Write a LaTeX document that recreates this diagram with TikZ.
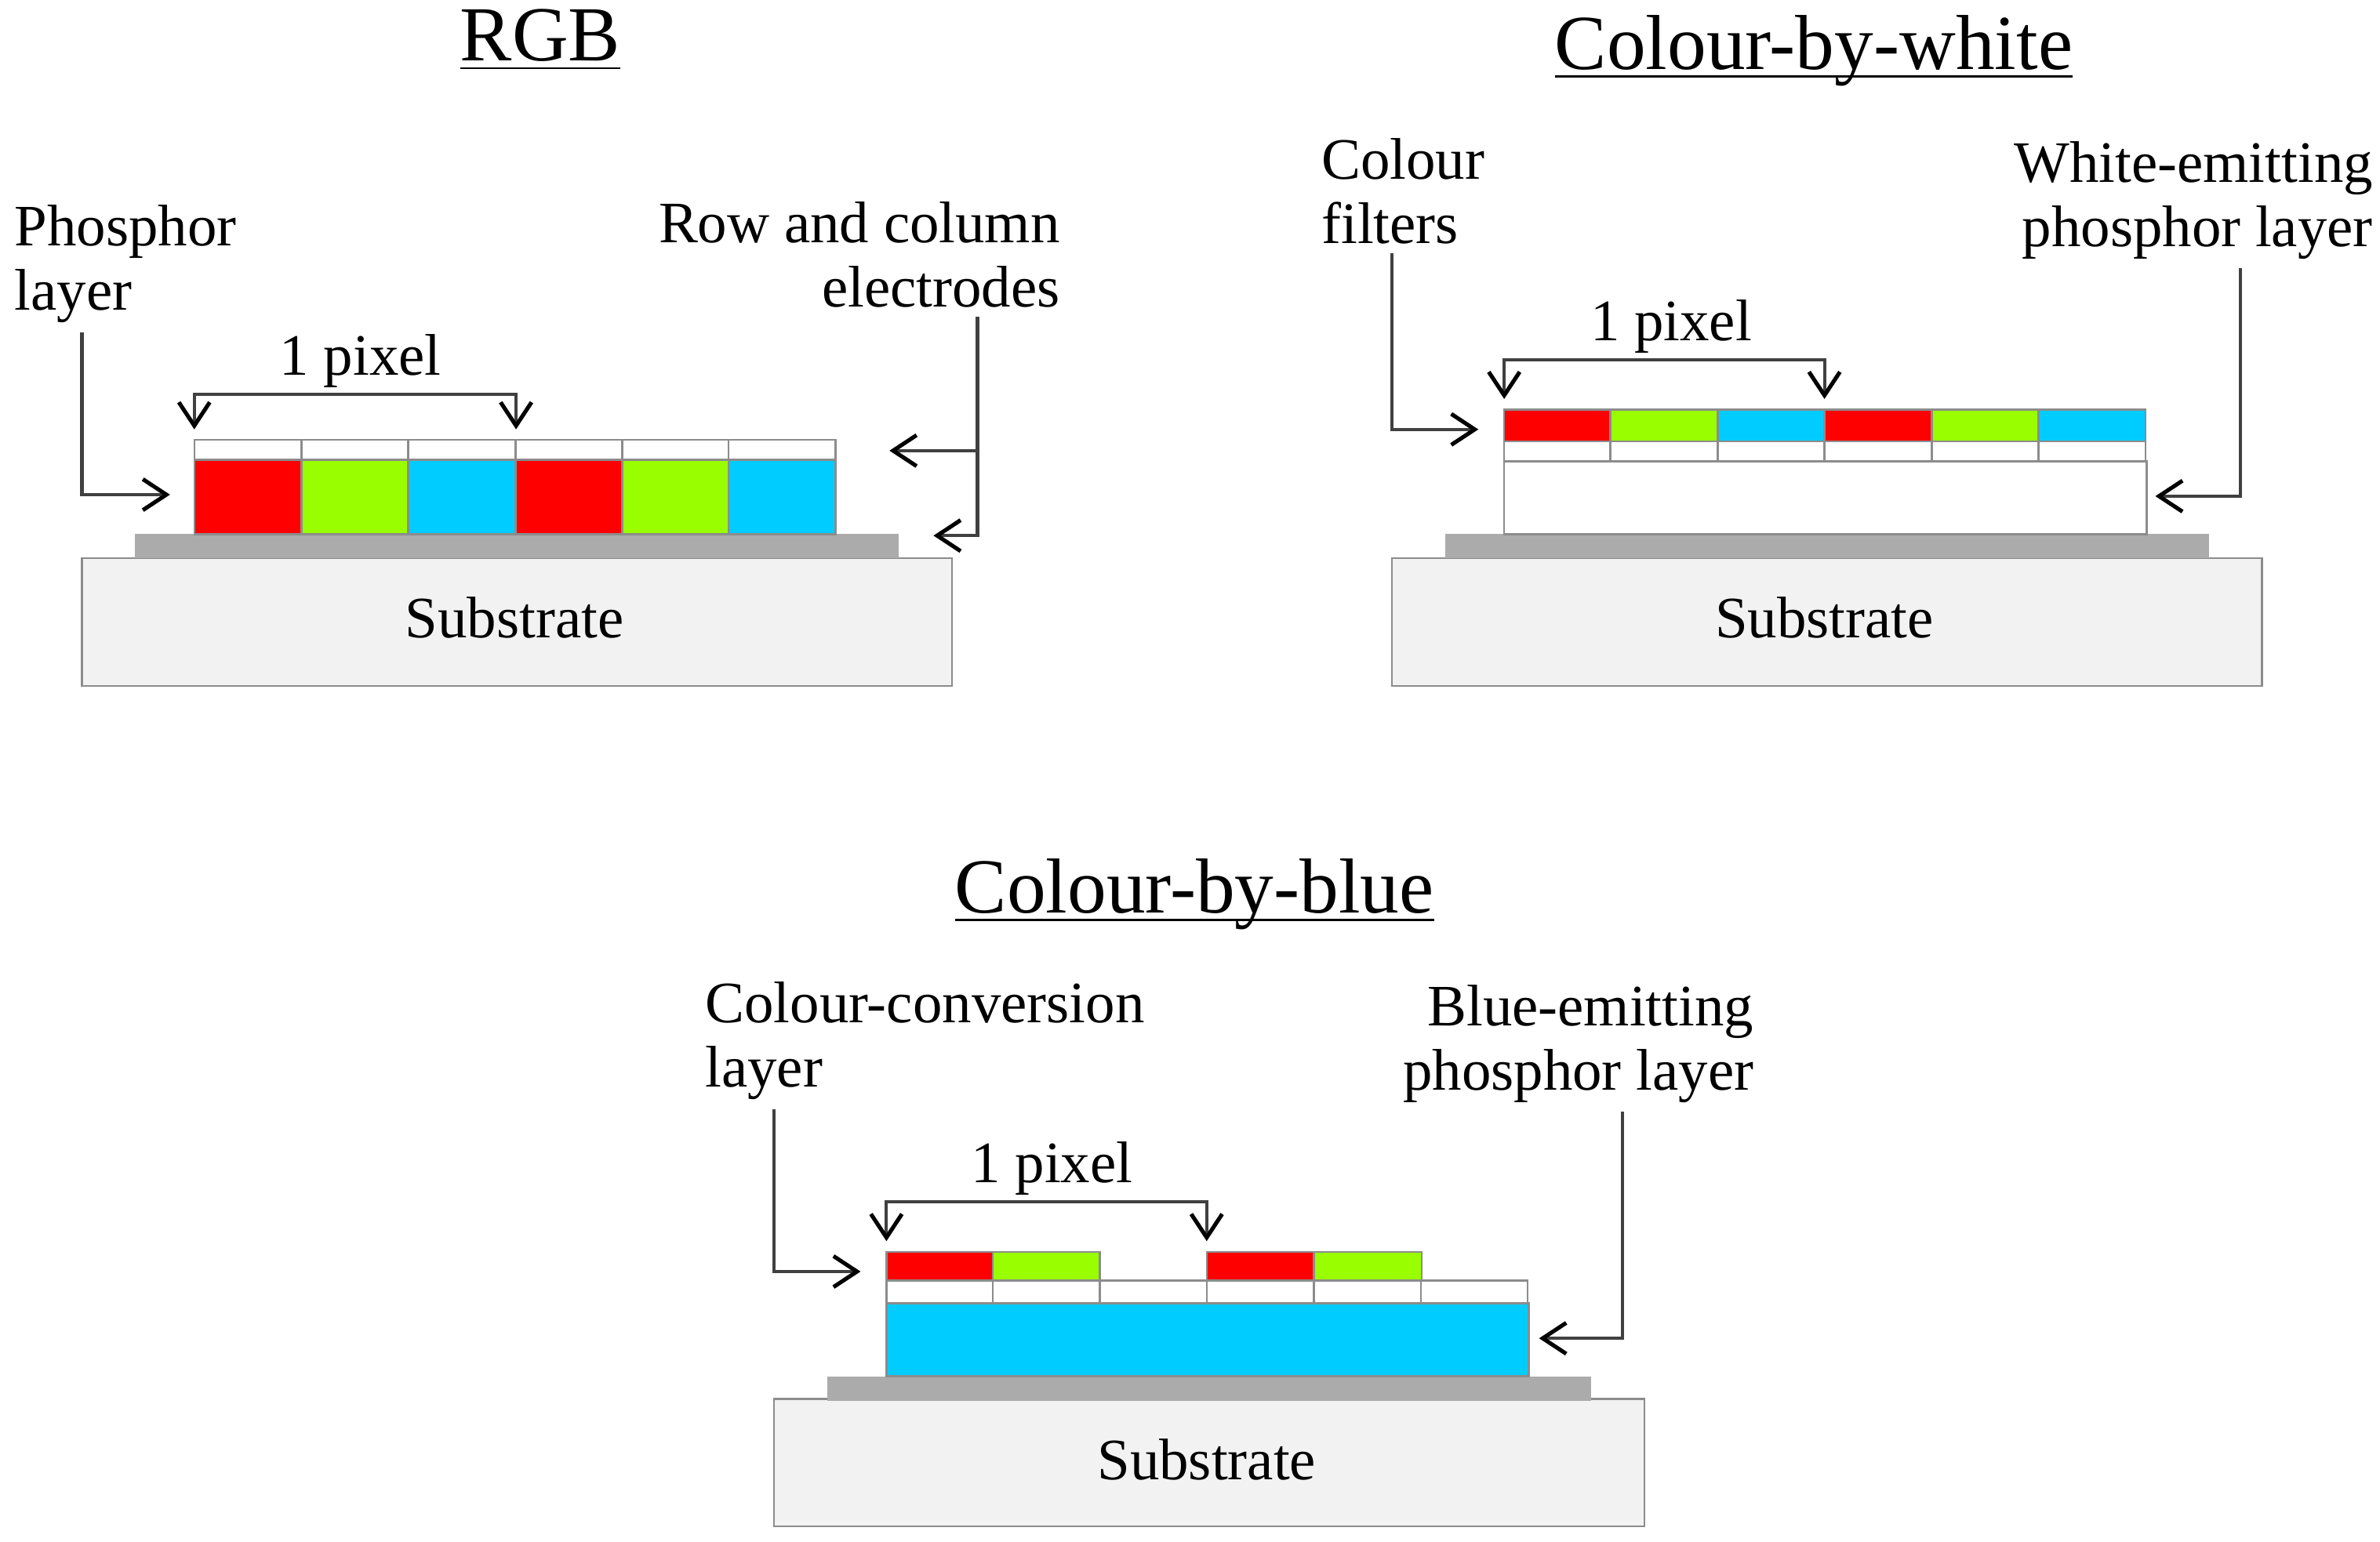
\documentclass[tikz,border=0pt]{standalone}
\usepackage{fontspec}
\usetikzlibrary{arrows.meta}
\setmainfont{Liberation Serif}
\definecolor{cellred}{HTML}{FF0000}
\definecolor{cellgreen}{HTML}{99FF00}
\definecolor{cellblue}{HTML}{00CCFF}
\definecolor{basegrey}{HTML}{ABABAB}
\definecolor{subgrey}{HTML}{F2F2F2}
\definecolor{linegrey}{HTML}{8C8C8C}
\newcommand{\tline}[1]{\underline{\smash{#1}}}
\tikzset{
  x=0.01cm,y=-0.01cm,
  >={Straight Barb[length=4.4pt,width=5.8pt,line width=0.75pt,black]},
  box/.style={anchor=north west,inner sep=0pt,outer sep=0pt,line width=0.35pt},
  substrate/.style={box,draw=linegrey,fill=subgrey,minimum width=5.73cm,minimum height=0.84cm},
  basefilm/.style={box,fill=basegrey,minimum width=5.03cm,minimum height=0.16cm},
  emptycell/.style={box,draw=linegrey,fill=white},
  lead/.style={draw=black!75,line width=0.6pt,shorten <=1.5pt,->},
  span/.style={draw=black!75,line width=0.6pt,<->,shorten <=2pt,shorten >=2pt},
  label/.style={inner sep=0pt,align=left,font=\fontsize{11}{12.1}\selectfont},
  title/.style={inner sep=0pt,anchor=base,font=\fontsize{14.6}{16}\selectfont}
}
\begin{document}
\begin{tikzpicture}
\useasboundingbox (0,0) rectangle (1568,1016);

% RGB
\node[title] (rgbtitle) at (356,40) {\tline{RGB}};
\node[substrate] (rgbsub) at (54,368) {};
\node[label] at (339,407) (rgbsubtext) {Substrate};
\node[basefilm] (rgbbase) at (89,352) {};
\foreach \x/\c [count=\i] in {128/cellred,199/cellgreen,269/cellblue,340/cellred,410/cellgreen,480/cellblue}{
  \node[emptycell,minimum width=0.705cm,minimum height=0.13cm] (rgbw\i) at (\x,290) {};
  \node[box,draw=black!45,fill=\c,minimum width=0.705cm,minimum height=0.49cm] (rgbc\i) at (\x,303) {};
}
\node[label,anchor=west] (rgbphos) at (9,174) {Phosphor\\layer};
\node[label,anchor=east,align=right] (rgbelec) at (699,168) {Row and column\\electrodes};
\node[label] (rgbpixel) at (237.5,238) {1 pixel};
\coordinate (rgbelecx) at (644,353);
\coordinate (rgbelecup) at (586,297);
\coordinate (rgbeleclow) at (615,353);
\coordinate (rgbphostip) at (112,326);
\draw[lead] (rgbphos.south -| rgbsub.west) |- (rgbphostip);
\draw[span] (rgbw1.north west) -- ++(0,-30) -| (rgbw4.north west);
\draw[lead] (rgbelec.south -| rgbelecx) |- (rgbeleclow);
\draw[lead,shorten <=0pt] (rgbelecup -| rgbelecx) -- (rgbelecup);

% Colour-by-white
\node[title] (cbwtitle) at (1195,45.5) {\tline{Colour-by-white}};
\node[substrate] (cbwsub) at (917,368) {};
\node[label] at (1202,407) (cbwsubtext) {Substrate};
\node[basefilm] (cbwbase) at (952,352) {};
\node[emptycell,minimum width=4.23cm,minimum height=0.48cm] (cbwlayer) at (991,304) {};
\foreach \x/\c [count=\i] in {991/cellred,1061/cellgreen,1132/cellblue,1202/cellred,1273/cellgreen,1343/cellblue}{
  \node[emptycell,minimum width=0.705cm,minimum height=0.13cm] (cbww\i) at (\x,291) {};
  \node[box,draw=black!45,fill=\c,minimum width=0.705cm,minimum height=0.21cm] (cbwc\i) at (\x,270) {};
}
\node[label,anchor=west] (cbwfilter) at (870,126) {Colour\\filters};
\node[label,anchor=east,align=right] (cbwwhite) at (1564,132) {White-emitting\\phosphor layer};
\node[label] (cbwpixel) at (1101,215) {1 pixel};
\coordinate (cbwfiltertip) at (974,283);
\coordinate (cbwwhitetip) at (1420,327);
\coordinate (cbwwhitex) at (1476,327);
\draw[lead] (cbwfilter.south -| cbwsub.west) |- (cbwfiltertip);
\draw[span] (cbwc1.north west) -- ++(0,-33) -| (cbwc4.north west);
\draw[lead] (cbwwhite.south -| cbwwhitex) |- (cbwwhitetip);

% Colour-by-blue
\node[title] (cbbtitle) at (787,601.5) {\tline{Colour-by-blue}};
\node[substrate] (cbbsub) at (510,922) {};
\node[label] at (795,962) (cbbsubtext) {Substrate};
\node[basefilm] (cbbbase) at (545,907) {};
\node[box,draw=black!45,fill=cellblue,minimum width=4.23cm,minimum height=0.48cm] (cbblayer) at (584,859) {};
\foreach \x [count=\i] in {584,654,725,795,866,936}{
  \node[emptycell,minimum width=0.705cm,minimum height=0.15cm] (cbbw\i) at (\x,844) {};
}
\foreach \x/\c/\i in {584/cellred/1,654/cellgreen/2,795/cellred/4,866/cellgreen/5}{
  \node[box,draw=black!45,fill=\c,minimum width=0.705cm,minimum height=0.19cm] (cbbc\i) at (\x,825) {};
}
\node[label,anchor=west] (cbbconv) at (464,686) {Colour-conversion\\layer};
\node[label,anchor=east,align=right] (cbbblue) at (1156,688) {Blue-emitting\\phosphor layer};
\node[label] (cbbpixel) at (693,770) {1 pixel};
\coordinate (cbbconvtip) at (567,838);
\coordinate (cbbbluetip) at (1014,882);
\coordinate (cbbbluex) at (1069,882);
\draw[lead] (cbbconv.south -| cbbsub.west) |- (cbbconvtip);
\draw[span] (cbbc1.north west) -- ++(0,-33) -| (cbbc4.north west);
\draw[lead] (cbbblue.south -| cbbbluex) |- (cbbbluetip);
\end{tikzpicture}
\end{document}
